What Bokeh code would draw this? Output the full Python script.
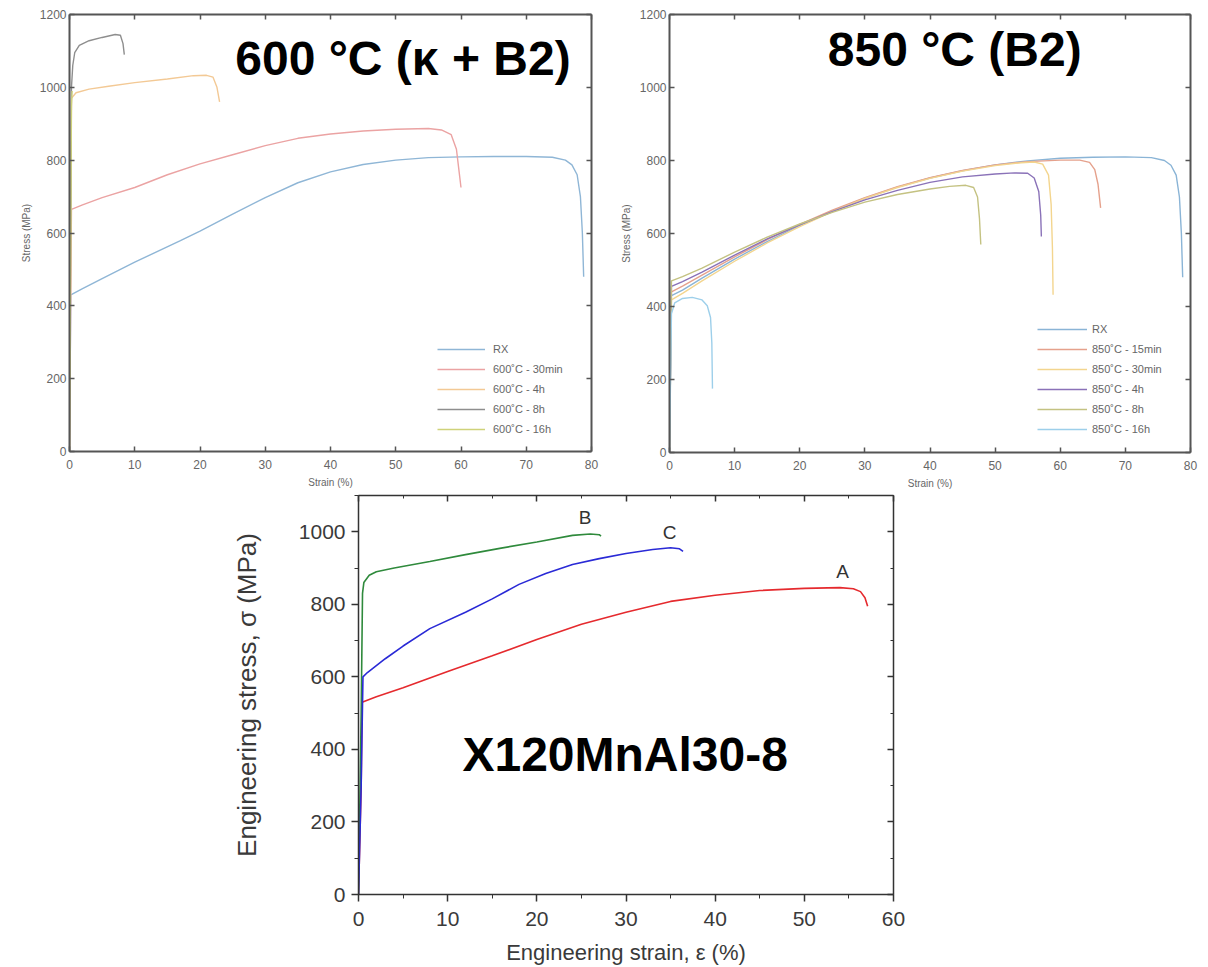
from bokeh.plotting import figure
from bokeh.models import (Range1d, LinearAxis, SingleIntervalTicker, Legend, LegendItem,
                          Label, Spacer, CustomJSTickFormatter)
from bokeh.layouts import column, row
from bokeh.embed import file_html
from bokeh.resources import INLINE

FONT = "Liberation Sans"

# ---------------- Panel 1: 600 °C (kappa + B2) ----------------
p1_names = ["RX", "600˚C - 30min", "600˚C - 4h", "600˚C - 8h", "600˚C - 16h"]
p1_colors = ["#8fb6d6", "#eba3a3", "#f3c995", "#8e8e8e", "#cfd27a"]

p1_rx_x = [0, 0.2, 2, 5, 10, 17, 20, 25, 30, 35, 40, 45, 50, 55, 60, 65, 70, 74, 76, 77, 77.8, 78.3, 78.6, 78.8]
p1_rx_y = [0, 430, 447, 475, 520, 579, 605, 652, 697, 738, 768, 788, 800, 807, 809, 810, 810, 808, 800, 787, 760, 700, 600, 480]

p1_30m_x = [0, 0.3, 2, 5, 10, 15, 20, 25, 30, 35, 40, 45, 50, 55, 57, 58.5, 59.3, 59.7, 60]
p1_30m_y = [0, 665, 677, 697, 725, 760, 790, 815, 840, 860, 872, 880, 885, 887, 883, 870, 830, 770, 725]

p1_4h_x = [0, 0.3, 1, 3, 6, 10, 15, 19, 21, 22, 22.6, 23]
p1_4h_y = [0, 970, 985, 995, 1003, 1013, 1023, 1032, 1033, 1028, 1000, 960]

p1_8h_x = [0, 0.3, 0.5, 0.8, 1.5, 3, 5, 7, 7.8, 8.2, 8.4]
p1_8h_y = [0, 1000, 1060, 1095, 1115, 1128, 1137, 1145, 1143, 1120, 1090]

p1_16h_x = [0, 0.2, 0.3, 0.4]
p1_16h_y = [0, 600, 950, 990]

# ---------------- Panel 2: 850 °C (B2) ----------------
p2_names = ["RX", "850˚C - 15min", "850˚C - 30min", "850˚C - 4h", "850˚C - 8h", "850˚C - 16h"]
p2_colors = ["#8ab4d6", "#e5a18c", "#f3d58e", "#8a72b8", "#c4c282", "#9dcfea"]

p2_rx_x = [0, 0.3, 2, 5, 10, 15, 20, 25, 30, 35, 40, 45, 50, 55, 60, 65, 70, 74, 76, 77, 77.8, 78.3, 78.6, 78.8]
p2_rx_y = [0, 430, 445, 478, 530, 578, 622, 662, 697, 727, 752, 772, 788, 799, 806, 809, 810, 808, 800, 787, 760, 700, 600, 480]

p2_15m_x = [0, 0.3, 2, 5, 10, 15, 20, 25, 30, 35, 40, 45, 50, 55, 60, 63, 64.5, 65.3, 65.8, 66.2]
p2_15m_y = [0, 440, 456, 486, 536, 583, 625, 664, 698, 728, 753, 773, 788, 797, 801, 801, 795, 775, 735, 670]

p2_30m_x = [0, 0.3, 2, 5, 10, 15, 20, 25, 30, 35, 40, 45, 50, 54, 56, 57.3, 58.2, 58.6, 58.8, 58.9]
p2_30m_y = [0, 418, 436, 470, 524, 574, 619, 660, 696, 726, 751, 771, 786, 794, 796, 790, 760, 680, 560, 432]

p2_4h_x = [0, 0.3, 2, 5, 10, 15, 20, 25, 30, 35, 40, 45, 50, 53, 55, 56, 56.7, 57, 57.1]
p2_4h_y = [0, 455, 468, 494, 541, 585, 624, 660, 692, 718, 740, 755, 763, 766, 765, 752, 715, 650, 592]

p2_8h_x = [0, 0.3, 2, 5, 10, 15, 20, 25, 30, 35, 40, 43, 45.5, 46.7, 47.3, 47.6, 47.8]
p2_8h_y = [0, 470, 482, 505, 549, 590, 626, 658, 686, 707, 722, 729, 732, 726, 700, 640, 570]

p2_16h_x = [0, 0.3, 0.8, 2, 3.5, 5, 5.8, 6.3, 6.5, 6.6]
p2_16h_y = [0, 380, 410, 422, 425, 418, 402, 370, 300, 175]

# ---------------- Panel 3: X120MnAl30-8 ----------------
p3_names = ["A", "B", "C"]
p3_colors = ["#e52a2e", "#2f8a3c", "#2a2ad6"]

p3_a_x = [0, 0.3, 0.4, 2, 5, 10, 15, 20, 25, 30, 35, 40, 45, 50, 54, 55.5, 56.3, 56.8, 57.1]
p3_a_y = [0, 300, 530, 545, 570, 615, 658, 703, 745, 778, 808, 825, 838, 844, 846, 843, 835, 818, 795]

p3_b_x = [0, 0.3, 0.45, 0.6, 1.2, 2, 4, 8, 12, 16, 20, 24, 26, 27, 27.2]
p3_b_y = [0, 500, 830, 860, 880, 890, 900, 918, 937, 955, 972, 990, 994, 992, 988]

p3_c_x = [0, 0.3, 0.5, 1, 3, 5, 8, 12, 15, 18, 21, 24, 27, 30, 33, 35, 36, 36.4]
p3_c_y = [0, 300, 600, 612, 650, 685, 733, 778, 815, 855, 885, 910, 926, 940, 951, 956, 953, 946]


def hidden_axis(interval, minor, tick_in, minor_in, color, lw):
    return LinearAxis(ticker=SingleIntervalTicker(interval=interval, num_minor_ticks=minor),
                      formatter=CustomJSTickFormatter(code="return ''"),
                      major_label_text_color=None, major_label_standoff=0,
                      major_tick_in=tick_in, major_tick_out=0,
                      minor_tick_in=minor_in, minor_tick_out=0,
                      axis_line_color=color, axis_line_width=lw,
                      major_tick_line_color=color, minor_tick_line_color=color,
                      major_tick_line_width=1.5)


def small_panel(fw, fh, bl, br, bt, bb):
    p = figure(frame_width=fw, frame_height=fh, x_range=Range1d(0, 80), y_range=Range1d(0, 1200),
               output_backend="svg", toolbar_location=None,
               min_border_left=bl, min_border_right=br, min_border_top=bt, min_border_bottom=bb)
    p.grid.visible = False
    p.outline_line_color = None
    p.background_fill_color = "white"
    p.xaxis.ticker = SingleIntervalTicker(interval=10, num_minor_ticks=0)
    p.yaxis.ticker = SingleIntervalTicker(interval=200, num_minor_ticks=0)
    for ax in (p.xaxis[0], p.yaxis[0]):
        ax.axis_line_color = "#555555"
        ax.axis_line_width = 2
        ax.major_tick_line_color = "#555555"
        ax.major_tick_line_width = 1.5
        ax.major_tick_in = 5
        ax.major_tick_out = 0
        ax.minor_tick_line_color = None
        ax.major_label_text_font = FONT
        ax.major_label_text_font_size = "12px"
        ax.major_label_text_color = "#666666"
        ax.axis_label_text_font = FONT
        ax.axis_label_text_font_size = "10px"
        ax.axis_label_text_font_style = "normal"
        ax.axis_label_text_color = "#666666"
    p.xaxis[0].axis_label = "Strain (%)"
    p.xaxis[0].major_label_standoff = 8
    p.xaxis[0].axis_label_standoff = 5
    p.yaxis[0].axis_label = "Stress (MPa)"
    p.yaxis[0].major_label_standoff = 3
    p.yaxis[0].axis_label_standoff = 5
    p.add_layout(hidden_axis(10, 0, 5, 0, "#555555", 2), "above")
    p.add_layout(hidden_axis(200, 0, 5, 0, "#555555", 2), "right")
    return p


def add_legend(p, renderers, names, loc, glyph_w, standoff):
    items = [LegendItem(label=n, renderers=[r]) for n, r in zip(names, renderers)]
    leg = Legend(items=items, location=loc, padding=0, margin=0, spacing=0,
                 glyph_width=glyph_w, glyph_height=20, label_height=20,
                 label_standoff=standoff, border_line_color=None,
                 background_fill_alpha=0,
                 label_text_font=FONT, label_text_font_size="11px",
                 label_text_color="#666666")
    p.add_layout(leg, "center")


# ---- figure 1
p1 = small_panel(522, 437, 69, 9, 14, 37)
r = []
for xs, ys, c in zip([p1_rx_x, p1_30m_x, p1_4h_x, p1_8h_x, p1_16h_x],
                     [p1_rx_y, p1_30m_y, p1_4h_y, p1_8h_y, p1_16h_y], p1_colors):
    r.append(p1.line(xs, ys, line_color=c, line_width=1.4))
add_legend(p1, r, p1_names, (368, 12), 48, 8)
p1.add_layout(Label(x=25.4, y=1080, text="600 °C (κ + B2)", text_font=FONT,
                    text_font_size="48px", text_font_style="bold", text_color="black",
                    text_baseline="alphabetic"))

# ---- figure 2
p2 = small_panel(521, 438, 69, 10, 12, 38)
r = []
for xs, ys, c in zip([p2_rx_x, p2_15m_x, p2_30m_x, p2_4h_x, p2_8h_x, p2_16h_x],
                     [p2_rx_y, p2_15m_y, p2_30m_y, p2_4h_y, p2_8h_y, p2_16h_y], p2_colors):
    r.append(p2.line(xs, ys, line_color=c, line_width=1.4))
add_legend(p2, r, p2_names, (368, 13), 50, 5)
p2.add_layout(Label(x=24.3, y=1103, text="850 °C (B2)", text_font=FONT,
                    text_font_size="48px", text_font_style="bold", text_color="black",
                    text_baseline="alphabetic"))

# ---- figure 3
p3 = figure(frame_width=535, frame_height=399, x_range=Range1d(0, 60), y_range=Range1d(0, 1100),
            output_backend="svg", toolbar_location=None,
            min_border_left=130, min_border_right=20, min_border_top=5, min_border_bottom=71)
p3.grid.visible = False
p3.outline_line_color = None
p3.xaxis.ticker = SingleIntervalTicker(interval=10, num_minor_ticks=2)
p3.yaxis.ticker = SingleIntervalTicker(interval=200, num_minor_ticks=2)
for ax in (p3.xaxis[0], p3.yaxis[0]):
    ax.axis_line_color = "#333333"
    ax.axis_line_width = 1.5
    ax.major_tick_line_color = "#333333"
    ax.minor_tick_line_color = "#333333"
    ax.major_tick_line_width = 1.5
    ax.major_tick_in = 0
    ax.major_tick_out = 7
    ax.minor_tick_in = 0
    ax.minor_tick_out = 4
    ax.major_label_text_font = FONT
    ax.major_label_text_font_size = "21px"
    ax.major_label_text_color = "#3a3a3a"
    ax.axis_label_text_font = FONT
    ax.axis_label_text_font_style = "normal"
    ax.axis_label_text_color = "#3a3a3a"
p3.xaxis[0].axis_label = "Engineering strain, ε (%)"
p3.xaxis[0].axis_label_text_font_size = "22px"
p3.xaxis[0].major_label_standoff = 10
p3.xaxis[0].axis_label_standoff = 11
p3.yaxis[0].axis_label = "Engineering stress, σ (MPa)"
p3.yaxis[0].axis_label_text_font_size = "26px"
p3.yaxis[0].major_label_standoff = 6
p3.yaxis[0].axis_label_standoff = 34
p3.add_layout(hidden_axis(10, 2, 6, 3, "#333333", 1.5), "above")
p3.add_layout(hidden_axis(200, 2, 6, 3, "#333333", 1.5), "right")

for xs, ys, c in zip([p3_a_x, p3_b_x, p3_c_x], [p3_a_y, p3_b_y, p3_c_y], p3_colors):
    p3.line(xs, ys, line_color=c, line_width=1.6)

curve_label_x = [54.3, 25.4, 34.9]
curve_label_y = [890, 1039, 998]
for t, lx, ly in zip(p3_names, curve_label_x, curve_label_y):
    p3.add_layout(Label(x=lx, y=ly, text=t, text_font=FONT, text_font_size="19px",
                        text_align="center", text_baseline="alphabetic", text_color="#333333"))
p3.add_layout(Label(x=11.66, y=386, text="X120MnAl30-8", text_font=FONT,
                    text_font_size="48px", text_font_style="bold", text_color="black",
                    text_baseline="alphabetic"))

layout = column(row(p1, p2), row(Spacer(width=228, height=10), p3))

open("out.html", "w").write(file_html(layout, INLINE))
